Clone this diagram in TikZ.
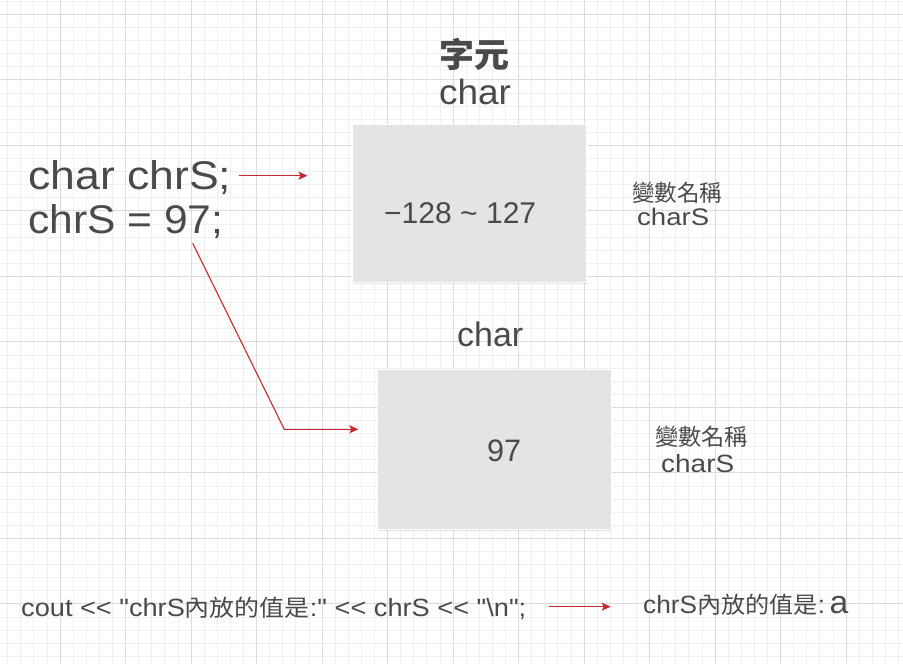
\documentclass[tikz,border=0pt]{standalone}
\usepackage{fontspec}
\setmainfont{Liberation Sans}
\newfontfamily\lat{Liberation Sans}
\newfontfamily\cjk{Noto Sans CJK TC}
\usetikzlibrary{arrows.meta,shadows}
\definecolor{txt}{HTML}{4A4A4A}
\definecolor{arr}{HTML}{C62830}
\definecolor{gmin}{HTML}{EFEFEF}
\definecolor{gmaj}{HTML}{DCDCDC}
\definecolor{boxfill}{HTML}{E4E4E4}
\newcommand\fw[2]{\resizebox{#1pt}{\height}{#2}}
\newcommand\fs[1]{\fontsize{#1}{#1}\lat}
\newcommand\zh[2]{{\fontsize{#1}{#1}\cjk #2}}
\begin{document}
\begin{tikzpicture}[x=1pt,y=-1pt,
  lbl/.style={inner sep=0pt, text=txt, anchor=base west},
  lblc/.style={inner sep=0pt, text=txt, anchor=base},
  membox/.style={draw=white, line width=1pt, fill=boxfill, inner sep=0pt,
    drop shadow={shadow xshift=1pt, shadow yshift=-2pt, opacity=0.18, fill=black!60}},
  redarrow/.style={draw=arr, line width=1.1pt, -{Stealth[length=9pt,width=8pt,inset=2pt]}},
  gridminor/.style={draw=gmin, line width=0.7pt},
  gridmajor/.style={draw=gmaj, line width=0.9pt}]
\fill[white] (0,0) rectangle (903,664);
\useasboundingbox (0,0) rectangle (903,664);
% grid
\foreach \i in {0,...,68} \draw[gridminor] ({7.6+13.1*\i},0) -- ({7.6+13.1*\i},664);
\foreach \i in {0,...,50} \draw[gridminor] (0,{1.2+13.1*\i}) -- (903,{1.2+13.1*\i});
\foreach \k in {0,...,12} \draw[gridmajor] ({60+65.5*\k},0) -- ({60+65.5*\k},664);
\foreach \k in {0,...,9} \draw[gridmajor] (0,{14.3+65.5*\k}) -- (903,{14.3+65.5*\k});

% boxes
\node[membox, minimum width=234pt, minimum height=158pt] (box1) at (469,203) {};
\node[membox, minimum width=234pt, minimum height=160pt] (box2) at (494,449) {};

% titles
\node[lblc] (t1) at (474.5,67) {\fw{70}{\zh{34}{\bfseries 字元}}};
\node[lblc] (t2) at (475,104.5) {\fw{72}{\fs{35}char}};
\node[lbl] (t3) at (457,346) {\fw{66}{\fs{34}char}};

% code
\node[lbl] (code1) at (28,189) {\fw{203}{\fs{40}char chrS;}};
\node[lbl] (code2) at (28,233) {\fw{195}{\fs{40}chrS = 97;}};

% values
\node[lbl] (range) at (384,223.5) {\fw{152}{\fs{30}−128 \textasciitilde\ 127}};
\node[lbl] (v97) at (487,461.5) {\fw{34}{\fs{31}97}};

% variable names
\node[lblc] (n1a) at (677,201.7) {\fw{90}{\zh{23}{變數名稱}}};
\node[lbl] (n1b) at (637,225) {\fw{72}{\fs{24}charS}};
\node[lblc] (n2a) at (701.7,445.8) {\fw{93}{\zh{23}{變數名稱}}};
\node[lbl] (n2b) at (661,472.3) {\fw{73}{\fs{25}charS}};

% bottom
\node[lbl] (cout) at (21,616.5) {\fw{505}{\fs{25}cout << "chrS\zh{23}{內放的值是}:" << chrS << "\textbackslash n";}};
\node[lbl] (out) at (643,613.8) {\fw{205}{\fs{25}chrS\zh{23}{內放的值是}:\,{\fs{32}a}}};

% connectors
\coordinate (a1s) at (238.5,175.7);
\coordinate (a1e) at (307.5,175.7);
\coordinate (a2s) at (192.7,243.3);
\coordinate (a2c) at (284.3,429.3);
\coordinate (a2e) at (358.3,429.3);
\coordinate (a3s) at (549.3,606.7);
\coordinate (a3e) at (610.7,606.7);
\draw[redarrow] (a1s) -- (a1e);
\draw[redarrow] (a2s) -- (a2c) -- (a2e);
\draw[redarrow] (a3s) -- (a3e);
\end{tikzpicture}
\end{document}
